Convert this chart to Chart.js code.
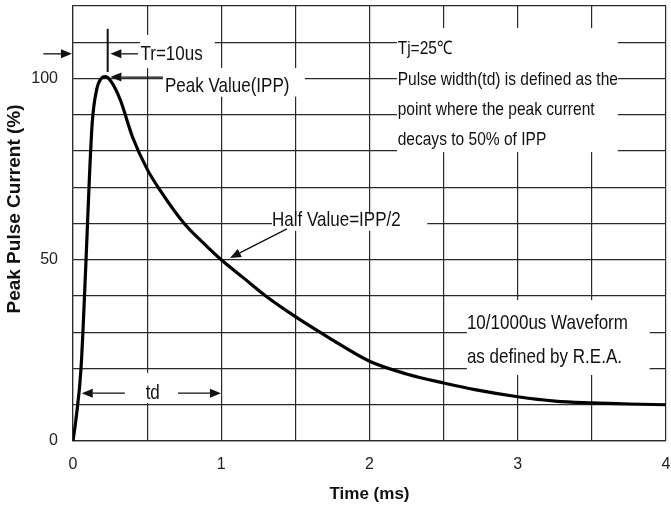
<!DOCTYPE html>
<html lang="en">
<head>
  <meta charset="UTF-8">
  <title>Peak Pulse Current vs Time</title>
  <style>
    body {
      margin: 0;
      background: #fff;
    }
    #wrap {
      width: 671px;
      height: 511px;
    }
  </style>
</head>
<body>
  <div id="wrap"><canvas id="pulseChart"></canvas></div>

  <script src="https://cdn.jsdelivr.net/npm/chart.js"></script>
  <script>
    // waveform
    const timeMs = [0, 0.02, 0.054, 0.088, 0.11, 0.13, 0.16, 0.19, 0.22, 0.26, 0.32, 0.4, 0.5, 0.59, 0.75, 0.88, 1.0, 1.15, 1.3, 1.5, 1.73, 2.0, 2.25, 2.5, 2.72, 3.0, 3.25, 3.5, 3.75, 4.0];
    const currentPct = [0, 6, 20, 50, 72, 88, 97, 100, 100.5, 99, 94, 84, 75, 69, 60, 54.6, 50, 45, 40, 34.3, 28.4, 22, 18.5, 16, 14.1, 12.2, 11, 10.5, 10.2, 10];

    const xTickLabels = ["0", "1", "2", "3", "4"];
    const yTickLabels = ["0", "50", "100"];

    const fontFamily = '"Liberation Sans", Arial, sans-serif';

    // white boxes that break the grid behind the notes (data units)
    const blanks = [
      [0.452, 0.957, 112, 102.9],   // Tr=10us
      [0.607, 1.564, 102.9, 95],    // Peak Value
      [1.342, 2.39, 62.5, 58],      // Half Value
      [2.185, 3.675, 113.9, 79.7],  // Tj note
      [2.657, 3.89, 38.9, 18.2],    // waveform note
      [0.344, 0.708, 18.8, 10.5]    // td
    ];

    // the source uses a condensed face, so text is squeezed sideways
    const notes = [
      { text: "Tr=10us", x: 0.455, y: 106.8, size: 21, sx: 0.81 },
      { text: "Peak Value(IPP)", x: 0.62, y: 98, size: 21, sx: 0.81 },
      { text: "Half Value=IPP/2", x: 1.342, y: 61, size: 21, sx: 0.81 },
      { text: "Tj=25\u2103", x: 2.19, y: 108.3, size: 18.5, sx: 0.84 },
      { text: "Pulse width(td) is defined as the", x: 2.19, y: 99.6, size: 18.5, sx: 0.84 },
      { text: "point where the peak current", x: 2.19, y: 91.3, size: 18.5, sx: 0.84 },
      { text: "decays to 50% of IPP", x: 2.19, y: 83.0, size: 18.5, sx: 0.84 },
      { text: "10/1000us Waveform", x: 2.657, y: 32.6, size: 21, sx: 0.81 },
      { text: "as defined by R.E.A.", x: 2.657, y: 23.2, size: 21, sx: 0.81 },
      { text: "td", x: 0.49, y: 13.2, size: 21, sx: 0.81 }
    ];

    // [fromX, fromY, tipX, tipY]
    const arrows = [
      [-0.2, 106.8, -0.007, 106.8],
      [0.438, 106.8, 0.252, 106.8],
      [0.607, 100.4, 0.252, 100.4],
      [1.443, 58.5, 1.059, 50.5],
      [0.35, 13.2, 0.059, 13.2],
      [0.708, 13.2, 0.998, 13.2]
    ];

    function drawArrow(ctx, x1, y1, x2, y2) {
      const ang = Math.atan2(y2 - y1, x2 - x1);
      const len = 11, half = 4.5;
      ctx.beginPath();
      ctx.moveTo(x1, y1);
      ctx.lineTo(x2 - Math.cos(ang) * len, y2 - Math.sin(ang) * len);
      ctx.stroke();
      ctx.beginPath();
      ctx.moveTo(x2, y2);
      ctx.lineTo(x2 - Math.cos(ang) * len - Math.sin(ang) * half, y2 - Math.sin(ang) * len + Math.cos(ang) * half);
      ctx.lineTo(x2 - Math.cos(ang) * len + Math.sin(ang) * half, y2 - Math.sin(ang) * len - Math.cos(ang) * half);
      ctx.closePath();
      ctx.fill();
    }

    const notesPlugin = {
      id: "notes",
      beforeDatasetsDraw(chart) {
        const { ctx, scales: { x, y } } = chart;
        ctx.save();
        ctx.fillStyle = "#fff";
        blanks.forEach(b => {
          const l = x.getPixelForValue(b[0]), r = x.getPixelForValue(b[1]);
          const t = y.getPixelForValue(b[2]), bt = y.getPixelForValue(b[3]);
          ctx.fillRect(l, t, r - l, bt - t);
        });
        ctx.restore();
      },
      afterDatasetsDraw(chart) {
        const { ctx, scales: { x, y } } = chart;
        ctx.save();
        ctx.fillStyle = "#111";
        ctx.strokeStyle = "#111";
        ctx.lineWidth = 1.3;
        arrows.forEach(a => {
          drawArrow(ctx, x.getPixelForValue(a[0]), y.getPixelForValue(a[1]),
            x.getPixelForValue(a[2]), y.getPixelForValue(a[3]));
        });

        // Tr marker at the peak
        ctx.lineWidth = 2;
        ctx.beginPath();
        ctx.moveTo(x.getPixelForValue(0.234), y.getPixelForValue(113.7));
        ctx.lineTo(x.getPixelForValue(0.234), y.getPixelForValue(101.8));
        ctx.stroke();

        ctx.textBaseline = "middle";
        ctx.textAlign = "left";
        notes.forEach(n => {
          ctx.save();
          ctx.translate(x.getPixelForValue(n.x), y.getPixelForValue(n.y));
          ctx.scale(n.sx, 1);
          ctx.font = n.size + "px " + fontFamily;
          ctx.fillText(n.text, 0, 0);
          ctx.restore();
        });

        // y axis title
        ctx.font = "bold 19px " + fontFamily;
        ctx.textAlign = "center";
        ctx.translate(15, y.getPixelForValue(64));
        ctx.rotate(-Math.PI / 2);
        ctx.fillText("Peak Pulse Current (%)", 0, 0);
        ctx.restore();
      }
    };

    new Chart(document.getElementById("pulseChart"), {
      type: "line",
      data: {
        labels: timeMs,
        datasets: [{
          data: timeMs.map((t, i) => ({ x: t, y: currentPct[i] })),
          borderColor: "#000",
          borderWidth: 3.2,
          pointRadius: 0,
          fill: false,
          cubicInterpolationMode: "monotone"
        }]
      },
      options: {
        responsive: true,
        maintainAspectRatio: false,
        animation: false,
        layout: { padding: { top: 6, right: 5, left: 0, bottom: 0 } },
        plugins: {
          legend: { display: false },
          tooltip: { enabled: false }
        },
        scales: {
          x: {
            type: "linear",
            min: 0,
            max: 4,
            grid: { color: "#2a2a2a", lineWidth: 1.2, drawTicks: false },
            border: { color: "#2a2a2a", width: 1.2 },
            afterFit: s => { s.height = 70; s.paddingLeft = 0; s.paddingRight = 0; },
            ticks: {
              stepSize: 0.5,
              padding: 14,
              color: "#222",
              font: { family: fontFamily, size: 16 },
              maxRotation: 0,
              autoSkip: false,
              callback: v => xTickLabels.includes(String(v)) ? String(v) : ""
            },
            title: {
              display: true,
              text: "Time (ms)",
              color: "#111",
              font: { family: fontFamily, size: 17, weight: "bold" },
              padding: { top: 0, bottom: 6 }
            }
          },
          y: {
            min: 0,
            max: 120,
            grid: { color: "#2a2a2a", lineWidth: 1.2, drawTicks: false },
            border: { color: "#2a2a2a", width: 1.2 },
            afterFit: s => { s.width = 73; s.paddingTop = 0; s.paddingBottom = 0; },
            ticks: {
              stepSize: 10,
              padding: 15,
              color: "#222",
              font: { family: fontFamily, size: 16 },
              autoSkip: false,
              callback: v => yTickLabels.includes(String(v)) ? String(v) : ""
            }
          }
        }
      },
      plugins: [notesPlugin]
    });
  </script>
</body>
</html>
